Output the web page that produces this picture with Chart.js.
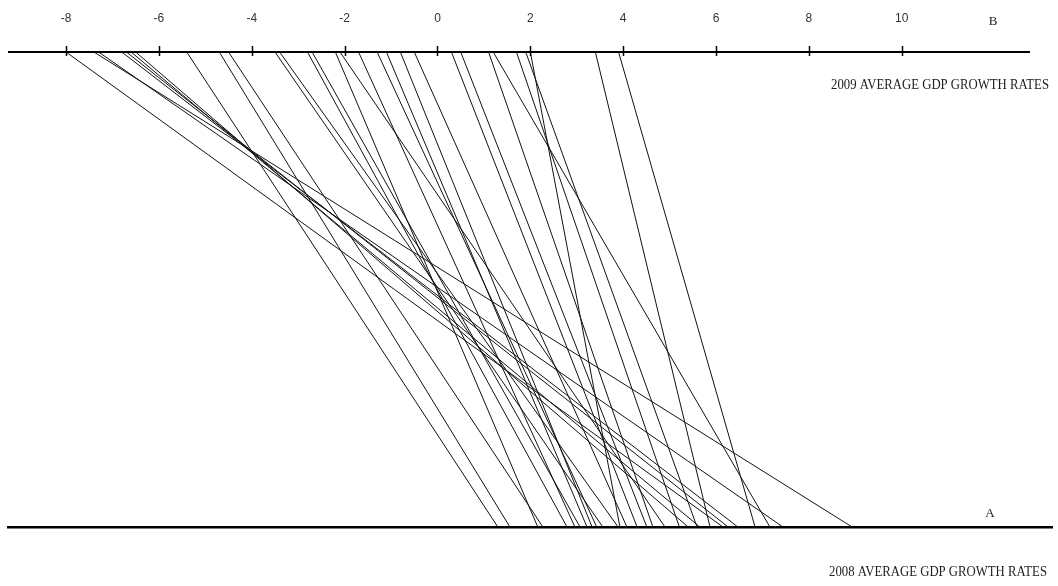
<!DOCTYPE html>
<html>
<head>
<meta charset="utf-8">
<script src="https://cdn.jsdelivr.net/npm/chart.js@4.4.1/dist/chart.umd.min.js"></script>
<style>
  html, body { margin: 0; padding: 0; background: #fff; }
  #wrap { width: 1058px; height: 586px; }
</style>
</head>
<body>
<div id="wrap"><canvas id="chart"></canvas></div>
<script>
// one line per country: 2009 growth on the top axis (B), 2008 growth on the bottom axis (A)
const growth2009 = [-8.0, -7.4, -7.3, -6.8, -6.7, -6.6, -6.5, -5.4, -4.7, -4.5,
                    -3.5, -3.4, -2.8, -2.7, -2.2, -2.1, -1.7, -1.3, -1.1, -0.8,
                    -0.5, 0.3, 0.5, 1.1, 1.2, 1.7, 1.9, 2.0, 3.4, 3.9];
const growth2008 = [6.15, 8.93, 7.44, 6.47, 6.26, 5.65, 5.40, 1.30, 1.56, 2.27,
                    3.56, 3.89, 2.79, 3.07, 2.16, 4.90, 2.96, 3.43, 3.22, 3.33,
                    4.08, 4.30, 4.51, 4.64, 7.16, 5.21, 5.59, 3.93, 5.87, 6.84];
const topTicks = [-8, -6, -4, -2, 0, 2, 4, 6, 8, 10];

const axisMin = -9.25;
const axisMax = 13.235;
const topAxisEnd = 12.76;

// top axis line, its tick marks and the axis captions
const axisDecor = {
    id: 'axisDecor',
    afterDatasetsDraw(chart) {
        const { ctx, chartArea } = chart;
        const xs = chart.scales.xTop;
        ctx.save();
        ctx.strokeStyle = '#000';
        ctx.lineWidth = 2;
        ctx.beginPath();
        ctx.moveTo(chartArea.left, chartArea.top);
        ctx.lineTo(xs.getPixelForValue(topAxisEnd), chartArea.top);
        ctx.stroke();

        ctx.lineWidth = 1.5;
        topTicks.forEach(v => {
            const x = Math.round(xs.getPixelForValue(v)) + 0.5;
            ctx.beginPath();
            ctx.moveTo(x, chartArea.top - 6);
            ctx.lineTo(x, chartArea.top + 4);
            ctx.stroke();
        });

        ctx.fillStyle = '#222';
        ctx.textBaseline = 'middle';
        ctx.textAlign = 'center';
        ctx.font = '13px "Liberation Serif"';
        ctx.fillText('B', 993, 22);
        ctx.fillText('A', 990, 514);

        ctx.textAlign = 'left';
        ctx.font = '14px "Liberation Serif"';
        ctx.fillText('2009 AVERAGE GDP GROWTH RATES', 831, 85, 218);
        ctx.fillText('2008 AVERAGE GDP GROWTH RATES', 829, 572, 218);
        ctx.restore();
    }
};

const datasets = growth2009.map((v09, i) => ({
    data: [{ x: growth2008[i], y: 0 }, { x: v09, y: 1 }],
    showLine: true,
    borderColor: '#111',
    borderWidth: 1,
    pointRadius: 0,
    clip: false
}));

new Chart(document.getElementById('chart'), {
    type: 'scatter',
    data: { datasets: datasets },
    plugins: [axisDecor],
    options: {
        responsive: true,
        maintainAspectRatio: false,
        animation: false,
        devicePixelRatio: 1,
        layout: { padding: { top: 10.4, bottom: 59, left: 8, right: 6 } },
        plugins: {
            legend: { display: false },
            tooltip: { enabled: false }
        },
        scales: {
            x: {
                type: 'linear',
                position: 'bottom',
                min: axisMin,
                max: axisMax,
                grid: { display: false, drawTicks: false },
                ticks: { display: false },
                border: { display: true, color: '#000', width: 2.5 },
                afterFit: s => { s.height = 0; }
            },
            xTop: {
                type: 'linear',
                position: 'top',
                min: axisMin,
                max: axisMax,
                grid: { display: false, drawTicks: false },
                border: { display: false },
                afterBuildTicks: s => { s.ticks = topTicks.map(v => ({ value: v })); },
                afterFit: s => { s.height = 41.6; },
                ticks: {
                    color: '#333',
                    padding: 25.8,
                    font: { family: '"Liberation Sans"', size: 12 }
                }
            },
            y: {
                min: 0,
                max: 1,
                display: false
            }
        }
    }
});
</script>
</body>
</html>
